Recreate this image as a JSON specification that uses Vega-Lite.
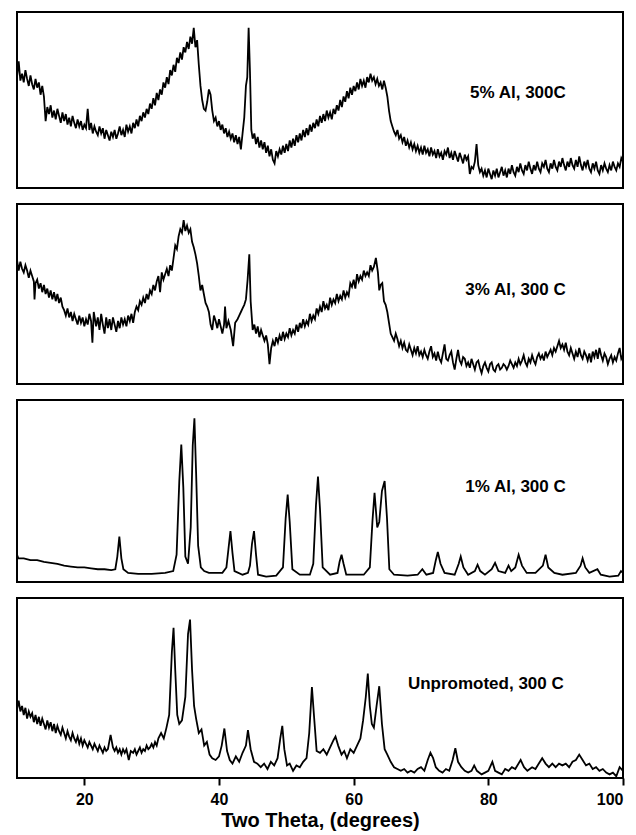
{
  "$schema": "https://vega.github.io/schema/vega-lite/v6.json",
  "padding": {"left": 16, "top": 11, "right": 10, "bottom": 0},
  "background": "white",
  "config": {
    "view": {"stroke": "black", "strokeWidth": 2},
    "font": "Liberation Sans"
  },
  "spacing": 14,
  "datasets": {
    "p5": [
      {"t":10.0,"i":63},{"t":10.25,"i":72},{"t":10.5,"i":61},{"t":10.75,"i":65},{"t":11.0,"i":60},{"t":11.25,"i":67},{"t":11.5,"i":62},{"t":11.75,"i":58},{"t":12.0,"i":64},{"t":12.25,"i":59},{"t":12.5,"i":56},{"t":12.75,"i":62},{"t":13.0,"i":57},{"t":13.25,"i":60},{"t":13.5,"i":53},{"t":13.75,"i":58},{"t":14.0,"i":52},{"t":14.25,"i":38},{"t":14.5,"i":46},{"t":14.75,"i":42},{"t":15.0,"i":47},{"t":15.25,"i":40},{"t":15.5,"i":44},{"t":15.75,"i":39},{"t":16.0,"i":45},{"t":16.25,"i":41},{"t":16.5,"i":37},{"t":16.75,"i":43},{"t":17.0,"i":38},{"t":17.25,"i":42},{"t":17.5,"i":36},{"t":17.75,"i":40},{"t":18.0,"i":35},{"t":18.25,"i":41},{"t":18.5,"i":37},{"t":18.75,"i":34},{"t":19.0,"i":39},{"t":19.25,"i":35},{"t":19.5,"i":38},{"t":19.75,"i":33},{"t":20.0,"i":36},{"t":20.25,"i":34},{"t":20.5,"i":45},{"t":20.75,"i":33},{"t":21.0,"i":37},{"t":21.25,"i":31},{"t":21.5,"i":35},{"t":21.75,"i":32},{"t":22.0,"i":30},{"t":22.25,"i":35},{"t":22.5,"i":31},{"t":22.75,"i":34},{"t":23.0,"i":28},{"t":23.25,"i":33},{"t":23.5,"i":30},{"t":23.75,"i":27},{"t":24.0,"i":32},{"t":24.25,"i":29},{"t":24.5,"i":33},{"t":24.75,"i":28},{"t":25.0,"i":31},{"t":25.25,"i":35},{"t":25.5,"i":30},{"t":25.75,"i":33},{"t":26.0,"i":29},{"t":26.25,"i":36},{"t":26.5,"i":32},{"t":26.75,"i":35},{"t":27.0,"i":31},{"t":27.25,"i":37},{"t":27.5,"i":34},{"t":27.75,"i":39},{"t":28.0,"i":35},{"t":28.25,"i":41},{"t":28.5,"i":38},{"t":28.75,"i":43},{"t":29.0,"i":40},{"t":29.25,"i":45},{"t":29.5,"i":42},{"t":29.75,"i":48},{"t":30.0,"i":45},{"t":30.25,"i":51},{"t":30.5,"i":47},{"t":30.75,"i":54},{"t":31.0,"i":50},{"t":31.25,"i":56},{"t":31.5,"i":53},{"t":31.75,"i":60},{"t":32.0,"i":57},{"t":32.25,"i":63},{"t":32.5,"i":59},{"t":32.75,"i":67},{"t":33.0,"i":64},{"t":33.25,"i":70},{"t":33.5,"i":66},{"t":33.75,"i":74},{"t":34.0,"i":71},{"t":34.25,"i":77},{"t":34.5,"i":73},{"t":34.75,"i":80},{"t":35.0,"i":77},{"t":35.25,"i":83},{"t":35.5,"i":79},{"t":35.75,"i":86},{"t":36.0,"i":82},{"t":36.25,"i":91},{"t":36.5,"i":80},{"t":36.75,"i":84},{"t":37.0,"i":70},{"t":37.25,"i":58},{"t":37.5,"i":50},{"t":37.75,"i":45},{"t":38.0,"i":44},{"t":38.25,"i":49},{"t":38.5,"i":56},{"t":38.75,"i":53},{"t":39.0,"i":44},{"t":39.25,"i":38},{"t":39.5,"i":40},{"t":39.75,"i":35},{"t":40.0,"i":38},{"t":40.25,"i":33},{"t":40.5,"i":36},{"t":40.75,"i":31},{"t":41.0,"i":34},{"t":41.25,"i":29},{"t":41.5,"i":32},{"t":41.75,"i":28},{"t":42.0,"i":31},{"t":42.25,"i":26},{"t":42.5,"i":30},{"t":42.75,"i":25},{"t":43.0,"i":29},{"t":43.25,"i":22},{"t":43.5,"i":31},{"t":43.75,"i":40},{"t":44.0,"i":58},{"t":44.2,"i":63},{"t":44.4,"i":91},{"t":44.6,"i":66},{"t":44.8,"i":33},{"t":45.0,"i":28},{"t":45.25,"i":31},{"t":45.5,"i":25},{"t":45.75,"i":29},{"t":46.0,"i":23},{"t":46.25,"i":27},{"t":46.5,"i":22},{"t":46.75,"i":26},{"t":47.0,"i":20},{"t":47.25,"i":24},{"t":47.5,"i":18},{"t":47.75,"i":22},{"t":48.0,"i":16},{"t":48.25,"i":14},{"t":48.5,"i":21},{"t":48.75,"i":18},{"t":49.0,"i":22},{"t":49.25,"i":19},{"t":49.5,"i":24},{"t":49.75,"i":20},{"t":50.0,"i":25},{"t":50.25,"i":21},{"t":50.5,"i":27},{"t":50.75,"i":23},{"t":51.0,"i":28},{"t":51.25,"i":24},{"t":51.5,"i":30},{"t":51.75,"i":26},{"t":52.0,"i":31},{"t":52.25,"i":27},{"t":52.5,"i":33},{"t":52.75,"i":29},{"t":53.0,"i":34},{"t":53.25,"i":30},{"t":53.5,"i":36},{"t":53.75,"i":32},{"t":54.0,"i":37},{"t":54.25,"i":34},{"t":54.5,"i":39},{"t":54.75,"i":35},{"t":55.0,"i":41},{"t":55.25,"i":37},{"t":55.5,"i":42},{"t":55.75,"i":38},{"t":56.0,"i":44},{"t":56.25,"i":40},{"t":56.5,"i":43},{"t":56.75,"i":39},{"t":57.0,"i":45},{"t":57.25,"i":42},{"t":57.5,"i":47},{"t":57.75,"i":44},{"t":58.0,"i":50},{"t":58.25,"i":46},{"t":58.5,"i":52},{"t":58.75,"i":49},{"t":59.0,"i":55},{"t":59.25,"i":51},{"t":59.5,"i":57},{"t":59.75,"i":53},{"t":60.0,"i":58},{"t":60.25,"i":55},{"t":60.5,"i":60},{"t":60.75,"i":56},{"t":61.0,"i":62},{"t":61.25,"i":58},{"t":61.5,"i":61},{"t":61.75,"i":57},{"t":62.0,"i":63},{"t":62.25,"i":60},{"t":62.5,"i":65},{"t":62.75,"i":61},{"t":63.0,"i":63},{"t":63.25,"i":59},{"t":63.5,"i":62},{"t":63.75,"i":58},{"t":64.0,"i":60},{"t":64.25,"i":56},{"t":64.5,"i":61},{"t":64.75,"i":57},{"t":65.0,"i":52},{"t":65.25,"i":44},{"t":65.5,"i":38},{"t":65.75,"i":35},{"t":66.0,"i":32},{"t":66.25,"i":30},{"t":66.5,"i":33},{"t":66.75,"i":28},{"t":67.0,"i":30},{"t":67.25,"i":26},{"t":67.5,"i":29},{"t":67.75,"i":24},{"t":68.0,"i":27},{"t":68.25,"i":23},{"t":68.5,"i":26},{"t":68.75,"i":22},{"t":69.0,"i":25},{"t":69.25,"i":21},{"t":69.5,"i":24},{"t":69.75,"i":20},{"t":70.0,"i":23},{"t":70.25,"i":19},{"t":70.5,"i":24},{"t":70.75,"i":20},{"t":71.0,"i":22},{"t":71.25,"i":18},{"t":71.5,"i":23},{"t":71.75,"i":19},{"t":72.0,"i":21},{"t":72.25,"i":17},{"t":72.5,"i":22},{"t":72.75,"i":18},{"t":73.0,"i":20},{"t":73.25,"i":16},{"t":73.5,"i":21},{"t":73.75,"i":19},{"t":74.0,"i":23},{"t":74.25,"i":17},{"t":74.5,"i":20},{"t":74.75,"i":16},{"t":75.0,"i":21},{"t":75.25,"i":18},{"t":75.5,"i":15},{"t":75.75,"i":20},{"t":76.0,"i":17},{"t":76.25,"i":14},{"t":76.5,"i":19},{"t":76.75,"i":16},{"t":77.0,"i":18},{"t":77.25,"i":8},{"t":77.5,"i":12},{"t":77.75,"i":11},{"t":78.0,"i":15},{"t":78.25,"i":25},{"t":78.5,"i":13},{"t":78.75,"i":9},{"t":79.0,"i":11},{"t":79.25,"i":7},{"t":79.5,"i":10},{"t":79.75,"i":6},{"t":80.0,"i":11},{"t":80.25,"i":8},{"t":80.5,"i":5},{"t":80.75,"i":10},{"t":81.0,"i":7},{"t":81.25,"i":11},{"t":81.5,"i":6},{"t":81.75,"i":9},{"t":82.0,"i":12},{"t":82.25,"i":7},{"t":82.5,"i":10},{"t":82.75,"i":6},{"t":83.0,"i":11},{"t":83.25,"i":8},{"t":83.5,"i":13},{"t":83.75,"i":9},{"t":84.0,"i":7},{"t":84.25,"i":12},{"t":84.5,"i":9},{"t":84.75,"i":14},{"t":85.0,"i":10},{"t":85.25,"i":8},{"t":85.5,"i":13},{"t":85.75,"i":10},{"t":86.0,"i":15},{"t":86.25,"i":11},{"t":86.5,"i":8},{"t":86.75,"i":13},{"t":87.0,"i":10},{"t":87.25,"i":15},{"t":87.5,"i":11},{"t":87.75,"i":9},{"t":88.0,"i":14},{"t":88.25,"i":12},{"t":88.5,"i":16},{"t":88.75,"i":11},{"t":89.0,"i":9},{"t":89.25,"i":14},{"t":89.5,"i":11},{"t":89.75,"i":16},{"t":90.0,"i":12},{"t":90.25,"i":10},{"t":90.5,"i":15},{"t":90.75,"i":12},{"t":91.0,"i":17},{"t":91.25,"i":13},{"t":91.5,"i":10},{"t":91.75,"i":15},{"t":92.0,"i":12},{"t":92.25,"i":17},{"t":92.5,"i":13},{"t":92.75,"i":11},{"t":93.0,"i":16},{"t":93.25,"i":12},{"t":93.5,"i":18},{"t":93.75,"i":13},{"t":94.0,"i":10},{"t":94.25,"i":15},{"t":94.5,"i":12},{"t":94.75,"i":16},{"t":95.0,"i":11},{"t":95.25,"i":9},{"t":95.5,"i":14},{"t":95.75,"i":11},{"t":96.0,"i":15},{"t":96.25,"i":10},{"t":96.5,"i":8},{"t":96.75,"i":13},{"t":97.0,"i":10},{"t":97.25,"i":14},{"t":97.5,"i":11},{"t":97.75,"i":9},{"t":98.0,"i":13},{"t":98.25,"i":10},{"t":98.5,"i":15},{"t":98.75,"i":12},{"t":99.0,"i":10},{"t":99.25,"i":14},{"t":99.5,"i":12},{"t":99.75,"i":17},{"t":100.0,"i":15}
    ],
    "p3": [
      {"t":10.0,"i":69},{"t":10.25,"i":63},{"t":10.5,"i":68},{"t":10.75,"i":64},{"t":11.0,"i":62},{"t":11.25,"i":66},{"t":11.5,"i":63},{"t":11.75,"i":59},{"t":12.0,"i":63},{"t":12.25,"i":60},{"t":12.5,"i":57},{"t":12.6,"i":47},{"t":12.75,"i":56},{"t":13.0,"i":58},{"t":13.25,"i":53},{"t":13.5,"i":56},{"t":13.75,"i":51},{"t":14.0,"i":55},{"t":14.25,"i":50},{"t":14.5,"i":53},{"t":14.75,"i":48},{"t":15.0,"i":52},{"t":15.25,"i":47},{"t":15.5,"i":51},{"t":15.75,"i":46},{"t":16.0,"i":50},{"t":16.25,"i":45},{"t":16.5,"i":48},{"t":16.75,"i":43},{"t":17.0,"i":41},{"t":17.25,"i":38},{"t":17.5,"i":42},{"t":17.75,"i":37},{"t":18.0,"i":40},{"t":18.25,"i":35},{"t":18.5,"i":39},{"t":18.75,"i":36},{"t":19.0,"i":33},{"t":19.25,"i":38},{"t":19.5,"i":34},{"t":19.75,"i":37},{"t":20.0,"i":32},{"t":20.25,"i":36},{"t":20.5,"i":33},{"t":20.75,"i":39},{"t":21.0,"i":35},{"t":21.2,"i":23},{"t":21.4,"i":40},{"t":21.75,"i":32},{"t":22.0,"i":37},{"t":22.25,"i":30},{"t":22.5,"i":39},{"t":22.75,"i":33},{"t":23.0,"i":28},{"t":23.25,"i":37},{"t":23.5,"i":31},{"t":23.75,"i":36},{"t":24.0,"i":30},{"t":24.25,"i":37},{"t":24.5,"i":33},{"t":24.75,"i":29},{"t":25.0,"i":35},{"t":25.25,"i":31},{"t":25.5,"i":37},{"t":25.75,"i":33},{"t":26.0,"i":36},{"t":26.25,"i":32},{"t":26.5,"i":38},{"t":26.75,"i":35},{"t":27.0,"i":39},{"t":27.25,"i":34},{"t":27.5,"i":40},{"t":27.75,"i":43},{"t":28.0,"i":41},{"t":28.25,"i":46},{"t":28.5,"i":44},{"t":28.75,"i":48},{"t":29.0,"i":45},{"t":29.25,"i":50},{"t":29.5,"i":47},{"t":29.75,"i":52},{"t":30.0,"i":50},{"t":30.25,"i":55},{"t":30.5,"i":52},{"t":30.75,"i":57},{"t":31.0,"i":60},{"t":31.25,"i":51},{"t":31.5,"i":62},{"t":31.75,"i":58},{"t":32.0,"i":61},{"t":32.25,"i":64},{"t":32.5,"i":60},{"t":32.75,"i":66},{"t":33.0,"i":63},{"t":33.25,"i":70},{"t":33.5,"i":77},{"t":33.75,"i":75},{"t":34.0,"i":82},{"t":34.25,"i":86},{"t":34.5,"i":84},{"t":34.75,"i":91},{"t":35.0,"i":85},{"t":35.25,"i":88},{"t":35.5,"i":84},{"t":35.75,"i":86},{"t":36.0,"i":79},{"t":36.25,"i":76},{"t":36.5,"i":72},{"t":36.75,"i":67},{"t":37.0,"i":60},{"t":37.25,"i":52},{"t":37.5,"i":55},{"t":37.75,"i":50},{"t":38.0,"i":45},{"t":38.25,"i":43},{"t":38.5,"i":40},{"t":38.75,"i":33},{"t":39.0,"i":30},{"t":39.25,"i":38},{"t":39.5,"i":35},{"t":39.75,"i":31},{"t":40.0,"i":36},{"t":40.25,"i":32},{"t":40.5,"i":28},{"t":40.75,"i":33},{"t":40.9,"i":43},{"t":41.1,"i":31},{"t":41.4,"i":35},{"t":41.75,"i":30},{"t":42.1,"i":21},{"t":42.4,"i":34},{"t":42.75,"i":36},{"t":43.0,"i":38},{"t":43.25,"i":40},{"t":43.5,"i":42},{"t":43.75,"i":44},{"t":44.0,"i":47},{"t":44.25,"i":58},{"t":44.5,"i":72},{"t":44.7,"i":46},{"t":45.0,"i":30},{"t":45.25,"i":33},{"t":45.5,"i":28},{"t":45.75,"i":32},{"t":46.0,"i":26},{"t":46.25,"i":30},{"t":46.5,"i":27},{"t":46.75,"i":24},{"t":47.0,"i":27},{"t":47.25,"i":22},{"t":47.5,"i":11},{"t":47.75,"i":20},{"t":48.0,"i":24},{"t":48.25,"i":21},{"t":48.5,"i":26},{"t":48.75,"i":23},{"t":49.0,"i":27},{"t":49.25,"i":24},{"t":49.5,"i":29},{"t":49.75,"i":25},{"t":50.0,"i":28},{"t":50.25,"i":26},{"t":50.5,"i":31},{"t":50.75,"i":27},{"t":51.0,"i":30},{"t":51.25,"i":28},{"t":51.5,"i":33},{"t":51.75,"i":29},{"t":52.0,"i":34},{"t":52.25,"i":31},{"t":52.5,"i":36},{"t":52.75,"i":32},{"t":53.0,"i":35},{"t":53.25,"i":33},{"t":53.5,"i":39},{"t":53.75,"i":35},{"t":54.0,"i":38},{"t":54.25,"i":36},{"t":54.5,"i":42},{"t":54.75,"i":39},{"t":55.0,"i":43},{"t":55.25,"i":40},{"t":55.5,"i":46},{"t":55.75,"i":42},{"t":56.0,"i":44},{"t":56.25,"i":41},{"t":56.5,"i":48},{"t":56.75,"i":44},{"t":57.0,"i":47},{"t":57.25,"i":45},{"t":57.5,"i":50},{"t":57.75,"i":46},{"t":58.0,"i":49},{"t":58.25,"i":47},{"t":58.5,"i":52},{"t":58.75,"i":48},{"t":59.0,"i":51},{"t":59.25,"i":49},{"t":59.5,"i":56},{"t":59.75,"i":54},{"t":60.0,"i":58},{"t":60.25,"i":53},{"t":60.5,"i":61},{"t":60.75,"i":57},{"t":61.0,"i":60},{"t":61.25,"i":58},{"t":61.5,"i":63},{"t":61.75,"i":60},{"t":62.0,"i":62},{"t":62.25,"i":60},{"t":62.5,"i":66},{"t":62.75,"i":63},{"t":63.0,"i":65},{"t":63.3,"i":70},{"t":63.6,"i":62},{"t":63.8,"i":52},{"t":64.0,"i":55},{"t":64.25,"i":56},{"t":64.5,"i":46},{"t":64.75,"i":44},{"t":65.0,"i":40},{"t":65.25,"i":34},{"t":65.5,"i":28},{"t":65.75,"i":26},{"t":66.0,"i":24},{"t":66.25,"i":28},{"t":66.5,"i":25},{"t":66.75,"i":21},{"t":67.0,"i":24},{"t":67.25,"i":20},{"t":67.5,"i":23},{"t":67.75,"i":19},{"t":68.0,"i":18},{"t":68.25,"i":22},{"t":68.5,"i":19},{"t":68.75,"i":16},{"t":69.0,"i":20},{"t":69.25,"i":17},{"t":69.5,"i":21},{"t":69.75,"i":16},{"t":70.0,"i":18},{"t":70.25,"i":15},{"t":70.5,"i":19},{"t":70.75,"i":16},{"t":71.0,"i":14},{"t":71.25,"i":18},{"t":71.5,"i":21},{"t":71.75,"i":15},{"t":72.0,"i":17},{"t":72.25,"i":13},{"t":72.5,"i":18},{"t":72.75,"i":14},{"t":73.0,"i":12},{"t":73.25,"i":17},{"t":73.5,"i":22},{"t":73.75,"i":14},{"t":74.0,"i":13},{"t":74.25,"i":16},{"t":74.5,"i":18},{"t":74.75,"i":12},{"t":75.0,"i":8},{"t":75.25,"i":14},{"t":75.5,"i":19},{"t":75.75,"i":13},{"t":76.0,"i":11},{"t":76.25,"i":15},{"t":76.5,"i":14},{"t":76.75,"i":10},{"t":77.0,"i":12},{"t":77.25,"i":9},{"t":77.5,"i":14},{"t":77.75,"i":11},{"t":78.0,"i":8},{"t":78.25,"i":12},{"t":78.5,"i":13},{"t":78.75,"i":9},{"t":79.0,"i":6},{"t":79.25,"i":10},{"t":79.5,"i":12},{"t":79.75,"i":9},{"t":80.0,"i":7},{"t":80.25,"i":11},{"t":80.5,"i":12},{"t":80.75,"i":8},{"t":81.0,"i":7},{"t":81.25,"i":10},{"t":81.5,"i":11},{"t":81.75,"i":8},{"t":82.0,"i":9},{"t":82.25,"i":11},{"t":82.5,"i":10},{"t":82.75,"i":8},{"t":83.0,"i":10},{"t":83.25,"i":13},{"t":83.5,"i":11},{"t":83.75,"i":9},{"t":84.0,"i":12},{"t":84.25,"i":10},{"t":84.5,"i":14},{"t":84.75,"i":11},{"t":85.0,"i":13},{"t":85.25,"i":16},{"t":85.5,"i":12},{"t":85.75,"i":10},{"t":86.0,"i":14},{"t":86.25,"i":12},{"t":86.5,"i":16},{"t":86.75,"i":13},{"t":87.0,"i":11},{"t":87.25,"i":15},{"t":87.5,"i":17},{"t":87.75,"i":14},{"t":88.0,"i":16},{"t":88.25,"i":13},{"t":88.5,"i":18},{"t":88.75,"i":15},{"t":89.0,"i":17},{"t":89.25,"i":19},{"t":89.5,"i":16},{"t":89.75,"i":20},{"t":90.0,"i":18},{"t":90.25,"i":21},{"t":90.5,"i":24},{"t":90.75,"i":20},{"t":91.0,"i":22},{"t":91.25,"i":19},{"t":91.5,"i":23},{"t":91.75,"i":18},{"t":92.0,"i":16},{"t":92.25,"i":20},{"t":92.5,"i":17},{"t":92.75,"i":14},{"t":93.0,"i":18},{"t":93.25,"i":15},{"t":93.5,"i":20},{"t":93.75,"i":16},{"t":94.0,"i":14},{"t":94.25,"i":18},{"t":94.5,"i":16},{"t":94.75,"i":13},{"t":95.0,"i":17},{"t":95.25,"i":12},{"t":95.5,"i":18},{"t":95.75,"i":15},{"t":96.0,"i":19},{"t":96.25,"i":14},{"t":96.5,"i":20},{"t":96.75,"i":16},{"t":97.0,"i":13},{"t":97.25,"i":17},{"t":97.5,"i":15},{"t":97.75,"i":11},{"t":98.0,"i":14},{"t":98.25,"i":16},{"t":98.5,"i":12},{"t":98.75,"i":15},{"t":99.0,"i":13},{"t":99.25,"i":17},{"t":99.5,"i":20},{"t":99.75,"i":14},{"t":100.0,"i":16}
    ],
    "p1": [
      {"t":10.0,"i":15},{"t":10.2,"i":13},{"t":11,"i":13},{"t":12,"i":12},{"t":13,"i":12},{"t":14,"i":11},{"t":15,"i":10.5},{"t":16,"i":10},{"t":17,"i":9},{"t":18,"i":8.5},{"t":19,"i":8},{"t":20,"i":8},{"t":21,"i":7.5},{"t":22,"i":7},{"t":23,"i":7},{"t":24,"i":6.5},{"t":24.6,"i":7},{"t":24.9,"i":14},{"t":25.2,"i":25},{"t":25.5,"i":13},{"t":25.8,"i":7},{"t":26.5,"i":5},{"t":28,"i":4.5},{"t":30,"i":4.5},{"t":32,"i":5},{"t":33.2,"i":6},{"t":33.7,"i":15},{"t":34.1,"i":55},{"t":34.4,"i":75.5},{"t":34.7,"i":52},{"t":35.0,"i":14},{"t":35.4,"i":10},{"t":35.8,"i":30},{"t":36.1,"i":75},{"t":36.35,"i":90},{"t":36.6,"i":60},{"t":36.9,"i":20},{"t":37.3,"i":8},{"t":37.8,"i":6},{"t":38.5,"i":5},{"t":39.2,"i":5},{"t":40.5,"i":5},{"t":41.1,"i":8},{"t":41.4,"i":18},{"t":41.7,"i":28},{"t":42.0,"i":16},{"t":42.3,"i":6},{"t":43.5,"i":4},{"t":44.3,"i":5},{"t":44.6,"i":9},{"t":44.9,"i":21},{"t":45.2,"i":28},{"t":45.5,"i":15},{"t":45.8,"i":4},{"t":47,"i":3},{"t":48.5,"i":3.5},{"t":49.5,"i":8},{"t":49.9,"i":35},{"t":50.2,"i":48},{"t":50.5,"i":33},{"t":50.9,"i":7},{"t":52,"i":4},{"t":53.5,"i":4},{"t":54.0,"i":10},{"t":54.4,"i":42},{"t":54.7,"i":58},{"t":55.0,"i":40},{"t":55.4,"i":8},{"t":56.5,"i":4},{"t":57.6,"i":5},{"t":57.9,"i":11},{"t":58.2,"i":15},{"t":58.5,"i":10},{"t":58.9,"i":4},{"t":60,"i":4},{"t":61.5,"i":4},{"t":62.4,"i":8},{"t":62.8,"i":34},{"t":63.1,"i":49},{"t":63.5,"i":30},{"t":63.8,"i":33},{"t":64.2,"i":50},{"t":64.6,"i":55.5},{"t":64.95,"i":35},{"t":65.3,"i":7},{"t":66,"i":4},{"t":68,"i":3.5},{"t":69.5,"i":4},{"t":70.2,"i":7},{"t":70.8,"i":4},{"t":71.8,"i":5},{"t":72.2,"i":12},{"t":72.5,"i":16.5},{"t":72.9,"i":10},{"t":73.5,"i":5},{"t":75,"i":4},{"t":75.6,"i":10},{"t":75.9,"i":14},{"t":76.3,"i":8},{"t":77,"i":4},{"t":78,"i":6},{"t":78.4,"i":9.5},{"t":78.8,"i":6},{"t":79.5,"i":4},{"t":80.5,"i":7},{"t":81,"i":10.5},{"t":81.5,"i":6},{"t":82.5,"i":5},{"t":83.0,"i":9},{"t":83.4,"i":6},{"t":84.0,"i":8},{"t":84.5,"i":15},{"t":85.0,"i":9},{"t":85.7,"i":5},{"t":87,"i":5},{"t":88.1,"i":9},{"t":88.5,"i":15},{"t":88.9,"i":8},{"t":89.8,"i":5},{"t":91,"i":4},{"t":93,"i":5},{"t":93.7,"i":9},{"t":94.0,"i":13},{"t":94.4,"i":8},{"t":95,"i":5},{"t":96.2,"i":7},{"t":96.7,"i":4},{"t":98,"i":3},{"t":99.3,"i":3.5},{"t":99.7,"i":6},{"t":100,"i":5}
    ],
    "p0": [
      {"t":10.0,"i":38},{"t":10.25,"i":43},{"t":10.5,"i":37},{"t":10.75,"i":40},{"t":11.0,"i":35},{"t":11.25,"i":39},{"t":11.5,"i":33},{"t":11.75,"i":37},{"t":12.0,"i":34},{"t":12.25,"i":36},{"t":12.5,"i":31},{"t":12.75,"i":35},{"t":13.0,"i":30},{"t":13.25,"i":34},{"t":13.5,"i":29},{"t":13.75,"i":33},{"t":14.0,"i":30},{"t":14.25,"i":27},{"t":14.5,"i":32},{"t":14.75,"i":28},{"t":15.0,"i":31},{"t":15.25,"i":26},{"t":15.5,"i":30},{"t":15.75,"i":25},{"t":16.0,"i":29},{"t":16.25,"i":26},{"t":16.5,"i":24},{"t":16.75,"i":28},{"t":17.0,"i":25},{"t":17.25,"i":22},{"t":17.5,"i":26},{"t":17.75,"i":23},{"t":18.0,"i":21},{"t":18.25,"i":25},{"t":18.5,"i":22},{"t":18.75,"i":20},{"t":19.0,"i":23},{"t":19.25,"i":19},{"t":19.5,"i":22},{"t":19.75,"i":18},{"t":20.0,"i":21},{"t":20.25,"i":19},{"t":20.5,"i":17},{"t":20.75,"i":20},{"t":21.0,"i":18},{"t":21.25,"i":16},{"t":21.5,"i":19},{"t":21.75,"i":17},{"t":22.0,"i":15},{"t":22.25,"i":18},{"t":22.5,"i":16},{"t":22.75,"i":14},{"t":23.0,"i":17},{"t":23.25,"i":15},{"t":23.5,"i":16},{"t":23.9,"i":24},{"t":24.25,"i":17},{"t":24.5,"i":15},{"t":24.75,"i":17},{"t":25.0,"i":14},{"t":25.25,"i":16},{"t":25.5,"i":13},{"t":25.75,"i":16},{"t":26.0,"i":14},{"t":26.25,"i":16},{"t":26.6,"i":10},{"t":26.9,"i":15},{"t":27.25,"i":14},{"t":27.5,"i":16},{"t":27.75,"i":13},{"t":28.0,"i":15},{"t":28.25,"i":17},{"t":28.5,"i":14},{"t":28.75,"i":16},{"t":29.0,"i":15},{"t":29.25,"i":18},{"t":29.5,"i":16},{"t":29.75,"i":17},{"t":30.0,"i":19},{"t":30.25,"i":17},{"t":30.5,"i":20},{"t":30.75,"i":18},{"t":31.0,"i":22},{"t":31.4,"i":25},{"t":31.8,"i":22},{"t":32.2,"i":28},{"t":32.6,"i":35},{"t":33.0,"i":70},{"t":33.25,"i":83.5},{"t":33.5,"i":60},{"t":33.8,"i":35},{"t":34.1,"i":30},{"t":34.5,"i":32},{"t":35.0,"i":45},{"t":35.4,"i":80},{"t":35.7,"i":88},{"t":36.0,"i":60},{"t":36.3,"i":40},{"t":36.6,"i":33},{"t":37.0,"i":25},{"t":37.4,"i":27},{"t":37.8,"i":18},{"t":38.2,"i":20},{"t":38.6,"i":13},{"t":39.0,"i":11},{"t":39.5,"i":10},{"t":40.0,"i":12},{"t":40.4,"i":18},{"t":40.8,"i":27.5},{"t":41.2,"i":15},{"t":41.6,"i":10},{"t":42.0,"i":8},{"t":42.5,"i":12},{"t":43.0,"i":9},{"t":43.5,"i":14},{"t":44.0,"i":18},{"t":44.3,"i":26.6},{"t":44.7,"i":16},{"t":45.2,"i":9},{"t":45.7,"i":8},{"t":46.2,"i":6},{"t":46.7,"i":8},{"t":47.2,"i":5},{"t":47.7,"i":9},{"t":48.2,"i":7},{"t":48.7,"i":11},{"t":49.1,"i":22},{"t":49.4,"i":29},{"t":49.7,"i":16},{"t":50.1,"i":7},{"t":50.5,"i":8},{"t":51.0,"i":4},{"t":51.5,"i":7},{"t":52.0,"i":6},{"t":52.5,"i":9},{"t":53.0,"i":11},{"t":53.4,"i":25},{"t":53.8,"i":50.5},{"t":54.1,"i":35},{"t":54.5,"i":15},{"t":55.0,"i":14},{"t":55.5,"i":16},{"t":56.0,"i":13},{"t":56.5,"i":17},{"t":57.0,"i":21},{"t":57.3,"i":23},{"t":57.7,"i":18},{"t":58.2,"i":13},{"t":58.6,"i":15},{"t":59.0,"i":11},{"t":59.5,"i":16},{"t":60.0,"i":14},{"t":60.5,"i":18},{"t":61.0,"i":22},{"t":61.4,"i":32},{"t":61.8,"i":45},{"t":62.1,"i":58},{"t":62.4,"i":40},{"t":62.7,"i":30},{"t":63.0,"i":28},{"t":63.4,"i":40},{"t":63.8,"i":51},{"t":64.2,"i":30},{"t":64.6,"i":16},{"t":65.0,"i":13},{"t":65.5,"i":9},{"t":66.0,"i":6},{"t":66.5,"i":5},{"t":67.0,"i":4},{"t":67.5,"i":5},{"t":68.0,"i":3},{"t":68.5,"i":4},{"t":69.0,"i":3},{"t":69.5,"i":5},{"t":70.0,"i":6},{"t":70.5,"i":4},{"t":71.0,"i":10},{"t":71.4,"i":14},{"t":71.8,"i":11},{"t":72.2,"i":6},{"t":72.7,"i":4},{"t":73.2,"i":3},{"t":73.7,"i":5},{"t":74.2,"i":4},{"t":74.7,"i":10},{"t":75.1,"i":16.5},{"t":75.5,"i":9},{"t":76.0,"i":6},{"t":76.5,"i":4},{"t":77.0,"i":3},{"t":77.5,"i":4},{"t":77.9,"i":7},{"t":78.3,"i":4},{"t":79.0,"i":2},{"t":79.5,"i":3},{"t":80.0,"i":4},{"t":80.6,"i":9},{"t":81.0,"i":4},{"t":81.5,"i":3},{"t":82.0,"i":2},{"t":82.5,"i":5},{"t":83.0,"i":4},{"t":83.5,"i":6},{"t":84.0,"i":5},{"t":84.8,"i":10},{"t":85.3,"i":6},{"t":85.8,"i":4},{"t":86.5,"i":6},{"t":87.0,"i":5},{"t":87.5,"i":8},{"t":88.0,"i":11},{"t":88.5,"i":8},{"t":89.0,"i":6},{"t":89.5,"i":8},{"t":90.0,"i":6},{"t":90.5,"i":8},{"t":91.0,"i":7},{"t":91.5,"i":8},{"t":92.0,"i":6},{"t":92.5,"i":9},{"t":93.0,"i":10},{"t":93.5,"i":13},{"t":94.0,"i":10},{"t":94.5,"i":7},{"t":95.0,"i":8},{"t":95.5,"i":5},{"t":96.0,"i":6},{"t":96.5,"i":4},{"t":97.0,"i":5},{"t":97.5,"i":3},{"t":98.0,"i":2},{"t":98.5,"i":3},{"t":99.0,"i":1},{"t":99.5,"i":6},{"t":100.0,"i":4}
    ]
  },
  "vconcat": [
    {
      "width": 606, "height": 176,
      "layer": [
        {"data": {"name": "p5"},
         "mark": {"type": "line", "color": "black", "strokeWidth": 1.8, "clip": true},
         "encoding": {
           "x": {"field": "t", "type": "quantitative", "scale": {"domain": [10, 100], "nice": false, "zero": false}, "axis": null},
           "y": {"field": "i", "type": "quantitative", "scale": {"domain": [0, 100], "nice": false}, "axis": null}}},
        {"data": {"values": [{"label": "5% Al, 300C", "x": 91.5, "y": 54}]},
         "mark": {"type": "text", "fontSize": 17, "fontWeight": "bold", "color": "black", "align": "right"},
         "encoding": {
           "x": {"field": "x", "type": "quantitative"},
           "y": {"field": "y", "type": "quantitative"},
           "text": {"field": "label"}}}
      ]
    },
    {
      "width": 606, "height": 180,
      "layer": [
        {"data": {"name": "p3"},
         "mark": {"type": "line", "color": "black", "strokeWidth": 1.8, "clip": true},
         "encoding": {
           "x": {"field": "t", "type": "quantitative", "scale": {"domain": [10, 100], "nice": false, "zero": false}, "axis": null},
           "y": {"field": "i", "type": "quantitative", "scale": {"domain": [0, 100], "nice": false}, "axis": null}}},
        {"data": {"values": [{"label": "3% Al, 300 C", "x": 91.5, "y": 52}]},
         "mark": {"type": "text", "fontSize": 17, "fontWeight": "bold", "color": "black", "align": "right"},
         "encoding": {
           "x": {"field": "x", "type": "quantitative"},
           "y": {"field": "y", "type": "quantitative"},
           "text": {"field": "label"}}}
      ]
    },
    {
      "width": 606, "height": 182,
      "layer": [
        {"data": {"name": "p1"},
         "mark": {"type": "line", "color": "black", "strokeWidth": 1.8, "clip": true},
         "encoding": {
           "x": {"field": "t", "type": "quantitative", "scale": {"domain": [10, 100], "nice": false, "zero": false}, "axis": null},
           "y": {"field": "i", "type": "quantitative", "scale": {"domain": [0, 100], "nice": false}, "axis": null}}},
        {"data": {"values": [{"label": "1% Al, 300 C", "x": 91.5, "y": 52}]},
         "mark": {"type": "text", "fontSize": 17, "fontWeight": "bold", "color": "black", "align": "right"},
         "encoding": {
           "x": {"field": "x", "type": "quantitative"},
           "y": {"field": "y", "type": "quantitative"},
           "text": {"field": "label"}}}
      ]
    },
    {
      "width": 606, "height": 180,
      "layer": [
        {"data": {"name": "p0"},
         "mark": {"type": "line", "color": "black", "strokeWidth": 1.8, "clip": true},
         "encoding": {
           "x": {"field": "t", "type": "quantitative", "scale": {"domain": [10, 100], "nice": false, "zero": false},
                 "axis": {"values": [20, 40, 60, 80, 100], "domain": false, "grid": false, "tickSize": 7, "tickWidth": 2, "tickColor": "black",
                          "labelFontSize": 16, "labelFontWeight": "bold", "labelColor": "black", "labelPadding": 6,
                          "title": "Two Theta, (degrees)", "titleFontSize": 20, "titleFontWeight": "bold", "titleColor": "black", "titlePadding": 3}},
           "y": {"field": "i", "type": "quantitative", "scale": {"domain": [0, 100], "nice": false}, "axis": null}}},
        {"data": {"values": [{"label": "Unpromoted, 300 C", "x": 91.2, "y": 52}]},
         "mark": {"type": "text", "fontSize": 17, "fontWeight": "bold", "color": "black", "align": "right"},
         "encoding": {
           "x": {"field": "x", "type": "quantitative"},
           "y": {"field": "y", "type": "quantitative"},
           "text": {"field": "label"}}}
      ]
    }
  ]
}
